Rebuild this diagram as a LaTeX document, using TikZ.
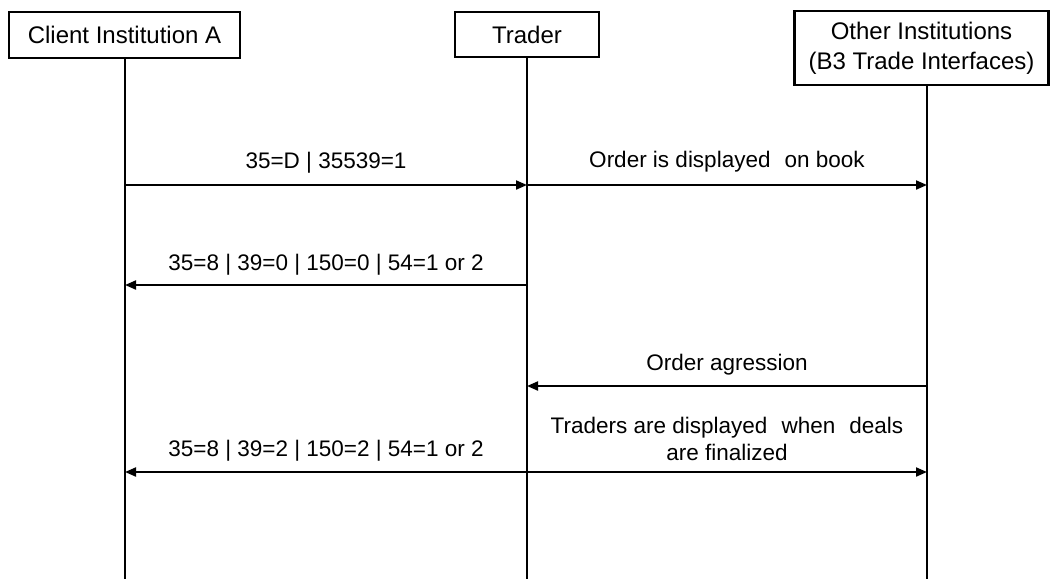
\documentclass[tikz,border=0pt]{standalone}
\usepackage{fontspec}
\setmainfont{Liberation Sans}
\usetikzlibrary{arrows.meta}
\begin{document}
\begin{tikzpicture}[x=1pt,y=-1pt,
  actor/.style={draw, line width=2.4pt, minimum height=#1, inner sep=0pt, align=center,
    font=\fontsize{24}{30}\selectfont},
  lifeline/.style={line width=2pt},
  msg/.style={line width=2pt, -{Triangle[length=11pt,width=9pt]}},
  lbl/.style={font=\fontsize{22.5}{27}\selectfont, align=center, inner sep=0pt}]
\useasboundingbox (0,0) rectangle (1051,579);

% participants
\node[actor=46pt, minimum width=231pt] (cli) at (124.5,35) {Client Institution A};
\node[actor=45pt, minimum width=144pt] (trd) at (527,34.5) {Trader};
\node[actor=74pt, minimum width=254pt] (oth) at (921.5,48) {Other Institutions\\(B3 Trade Interfaces)};

% lifelines
\coordinate (cliTop) at (125,58);
\coordinate (trdTop) at (527,57);
\coordinate (othTop) at (927,85);
\coordinate (cliEnd) at (125,579);
\coordinate (trdEnd) at (527,579);
\coordinate (othEnd) at (927,579);
\draw[lifeline] (cliTop) -- (cliEnd);
\draw[lifeline] (trdTop) -- (trdEnd);
\draw[lifeline] (othTop) -- (othEnd);

% message anchor points on the lifelines
\coordinate (c1) at (125,185);  \coordinate (t1) at (527,185);  \coordinate (o1) at (927,185);
\coordinate (c2) at (125,285);  \coordinate (t2) at (527,285);
\coordinate (t3) at (527,386);  \coordinate (o3) at (927,386);
\coordinate (c4) at (125,472);  \coordinate (t4) at (527,472);  \coordinate (o4) at (927,472);

% messages
\draw[msg] (c1) -- (t1) node[lbl, midway, above=11pt] {35=D | 35539=1};
\draw[msg] (t1) -- (o1) node[lbl, midway, above=12pt] {Order is displayed\hspace{0.35em} on book};
\draw[msg] (t2) -- (c2) node[lbl, midway, above=9pt] {35=8 | 39=0 | 150=0 | 54=1 or 2};
\draw[msg] (o3) -- (t3) node[lbl, midway, above=10pt] {Order agression};
\draw[msg] (t4) -- (c4) node[lbl, midway, above=10pt] {35=8 | 39=2 | 150=2 | 54=1 or 2};
\draw[msg] (t4) -- (o4) node[lbl, midway, above=10pt] {Traders are displayed\hspace{0.35em} when\hspace{0.35em} deals\\are finalized};
\end{tikzpicture}
\end{document}
